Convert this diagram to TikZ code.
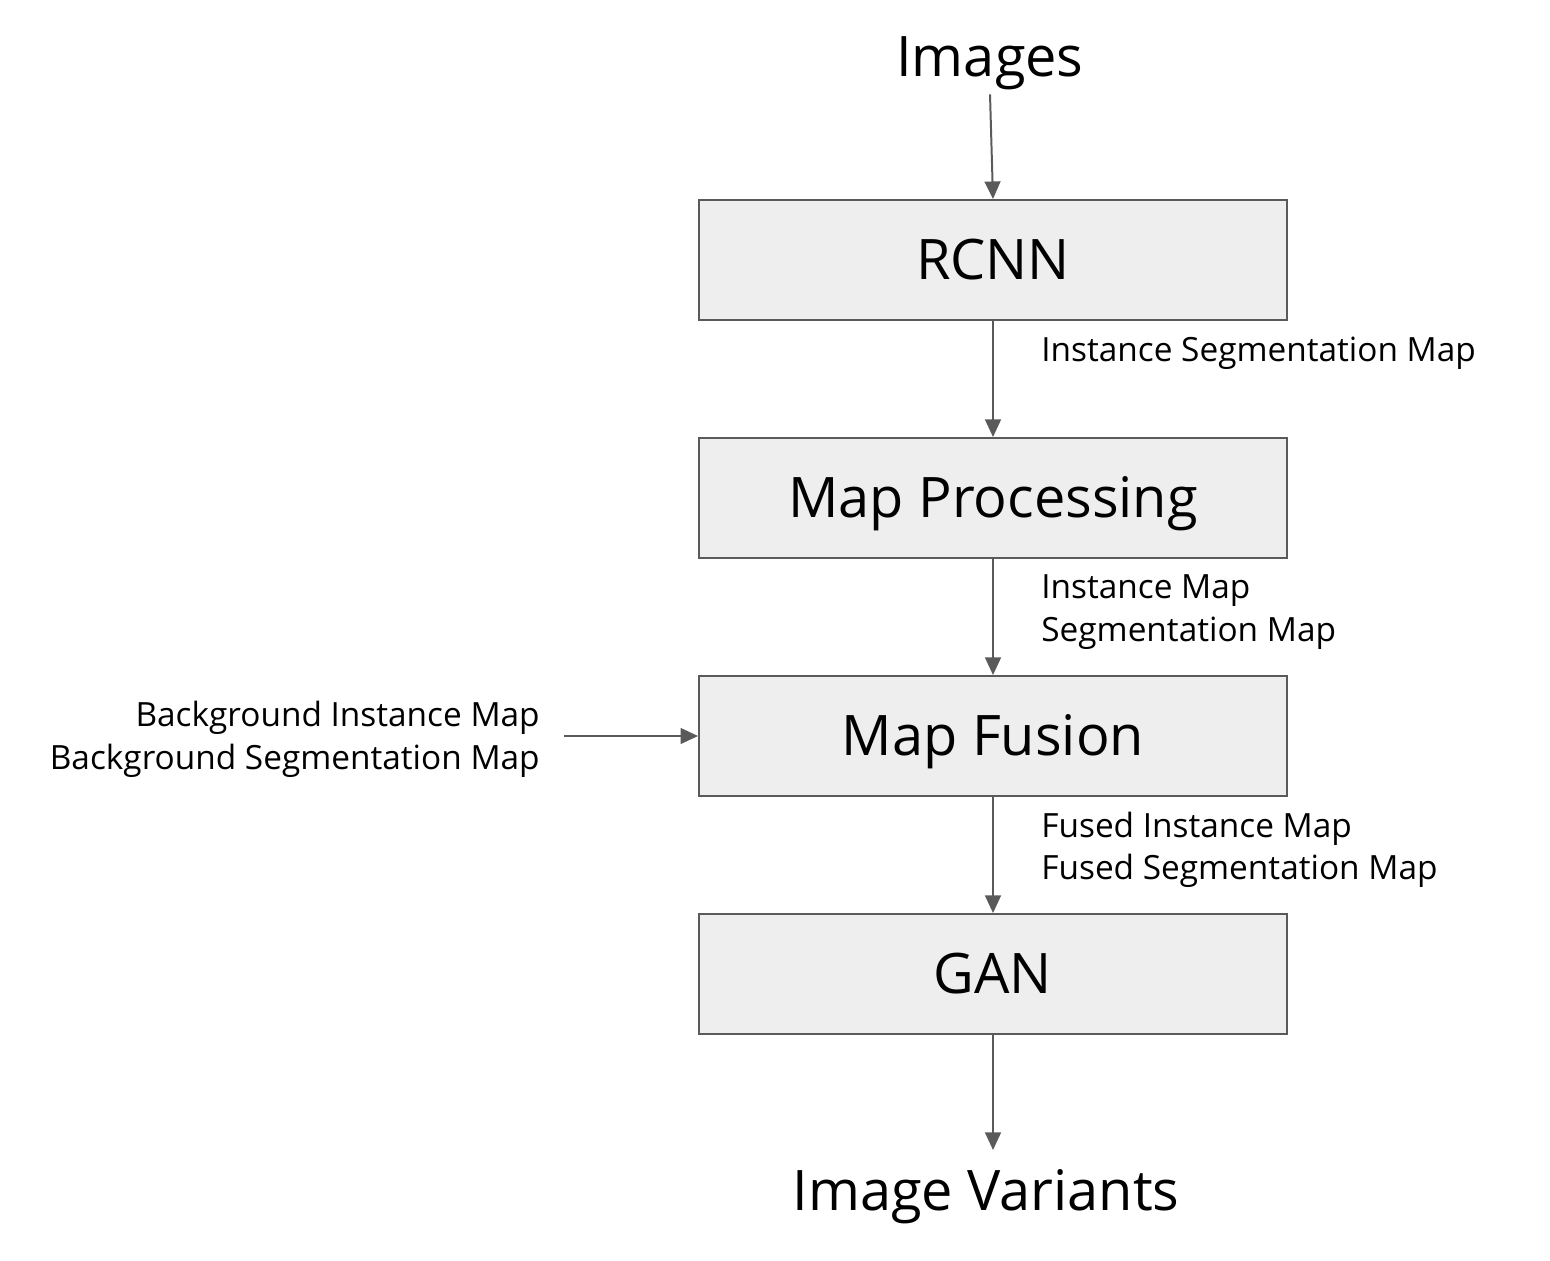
\documentclass[tikz,border=0pt]{standalone}
\usepackage{fontspec}
\setmainfont{Open Sans}
\usetikzlibrary{arrows.meta,calc}
\definecolor{boxfill}{HTML}{EEEEEE}
\definecolor{linegray}{HTML}{5A5A5A}
\newcommand{\bigfnt}{\fontsize{31.8pt}{38pt}\selectfont}
\newcommand{\smallfnt}{\fontsize{19pt}{24pt}\selectfont}
\begin{document}
\begin{tikzpicture}[x=0.02cm,y=-0.02cm,
  stagebox/.style={draw=linegray, fill=boxfill, line width=1.13pt,
    minimum width=11.76cm, minimum height=2.4cm, inner sep=0pt,
    font=\bigfnt, text height=22.7pt, text depth=0pt},
  bigtext/.style={font=\bigfnt, inner sep=2pt, anchor=base},
  lbl/.style={font=\smallfnt, inner sep=0pt},
  arr/.style={draw=linegray, line width=1.13pt,
    -{Triangle[length=10pt,width=9pt]}}]
\useasboundingbox (0,0) rectangle (1550,1260);

\node[stagebox] (rcnn) at (993,260) {RCNN};
\node[stagebox] (proc) at (993,498) {Map Processing};
\node[stagebox] (fus)  at (993,736) {Map Fusion};
\node[stagebox] (gan)  at (993,974) {GAN};

\node[bigtext] (img) at (990,77) {Images};
\node[bigtext] (var) at (986,1210) {Image Variants};
\coordinate (varin) at (993,1150);

\node[lbl, anchor=base west] (l1)  at (1041,361) {Instance Segmentation Map};
\node[lbl, anchor=base west] (l2a) at (1041,598) {Instance Map};
\node[lbl, anchor=base west] (l2b) at (1041,641) {Segmentation Map};
\node[lbl, anchor=base west] (l3a) at (1041,837) {Fused Instance Map};
\node[lbl, anchor=base west] (l3b) at (1041,879) {Fused Segmentation Map};
\node[lbl, anchor=base east] (bga) at (540,726) {Background Instance Map};
\node[lbl, anchor=base east] (bgb) at (540,769) {Background Segmentation Map};

\draw[arr] (img.south) -- (rcnn.north);
\draw[arr] (rcnn) -- (proc);
\draw[arr] (proc) -- (fus);
\draw[arr] (fus) -- (gan);
\draw[arr] (gan.south) -- (varin);
\draw[arr] ([xshift=13.6pt]fus.west -| bga.east) -- (fus.west);
\end{tikzpicture}
\end{document}
